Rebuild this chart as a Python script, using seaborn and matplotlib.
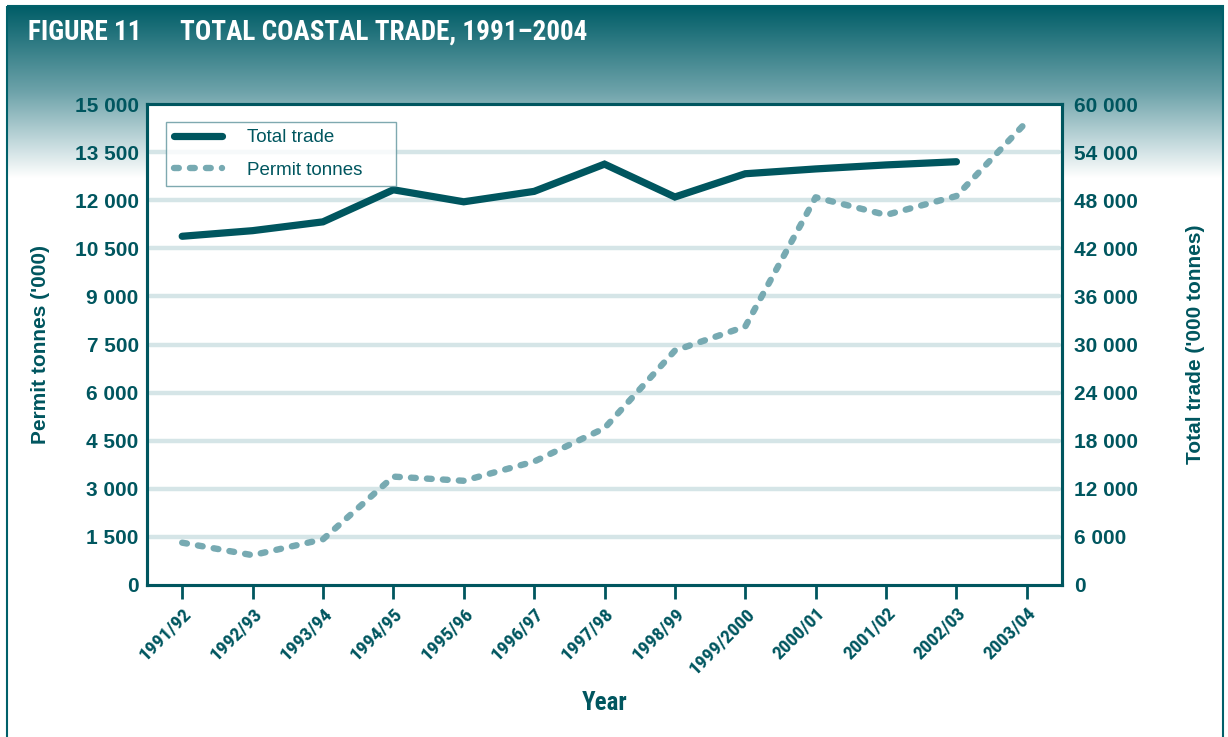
import numpy as np
import pandas as pd
import matplotlib
matplotlib.use("Agg")
import matplotlib.pyplot as plt
import seaborn as sns
from matplotlib.patches import Rectangle
from matplotlib import font_manager as fm

# ---- data ----
years = ["1991/92", "1992/93", "1993/94", "1994/95", "1995/96", "1996/97", "1997/98",
         "1998/99", "1999/2000", "2000/01", "2001/02", "2002/03", "2003/04"]
permit_tonnes = [1320, 930, 1425, 3380, 3250, 3850, 4890, 7310, 8060, 12090, 11540, 12130, 14450]
total_trade = [43500, 44200, 45300, 49300, 47800, 49100, 52500, 48400, 51300, 51900, 52400, 52800, None]
left_ticks = [0, 1500, 3000, 4500, 6000, 7500, 9000, 10500, 12000, 13500, 15000]
right_ticks = [0, 6000, 12000, 18000, 24000, 30000, 36000, 42000, 48000, 54000, 60000]

DARK = "#00565f"
LIGHT = "#77aab2"
GRID = "#d5e5e7"

sns.set_theme(style="white")
bold_names = {f.name for f in fm.fontManager.ttflist if f.weight in (700, "bold")}
narrow = "DejaVu Sans"
for cand in ["Roboto Condensed", "Fira Sans Condensed", "IBM Plex Sans Condensed", "Barlow Condensed"]:
    if cand in bold_names:
        narrow = cand
        break
plt.rcParams["font.family"] = ["Liberation Sans", "DejaVu Sans"]

W, H = 1228, 737
fig = plt.figure(figsize=(W / 100, H / 100), dpi=100)
fig.patch.set_facecolor("white")

# background gradient header and frame
bg = fig.add_axes([0, 0, 1, 1], zorder=-10)
bg.set_xlim(0, W)
bg.set_ylim(H, 0)
bg.axis("off")
n = 256
c0 = np.array(matplotlib.colors.to_rgb("#005d67"))
c1 = np.array(matplotlib.colors.to_rgb("#6ea3aa"))
c2 = np.array([1.0, 1.0, 1.0])
rgb = np.zeros((n, 1, 3))
for i in range(n):
    g = i / (n - 1)
    if g < 0.5:
        t = g / 0.5
        rgb[i, 0] = c0 * (1 - t) + c1 * t
    else:
        t = (g - 0.5) / 0.5
        rgb[i, 0] = c1 * (1 - t) + c2 * t
bg.imshow(rgb, extent=[7, 1223, 178, 6], aspect="auto", interpolation="bilinear")
bg.add_patch(Rectangle((7, 6), 1216, 760, fill=False, edgecolor="#00606a", linewidth=1.5))

fig.text(28 / W, 1 - 32 / H, "FIGURE 11", color="white", fontsize=19.5, fontweight="bold",
         family=narrow, va="center", ha="left")
fig.text(180 / W, 1 - 32 / H, "TOTAL COASTAL TRADE, 1991\u20132004", color="white", fontsize=19.5,
         fontweight="bold", family=narrow, va="center", ha="left")

# main axes
left, right, top, bottom = 147, 1062, 104, 585
ax = fig.add_axes([left / W, 1 - bottom / H, (right - left) / W, (bottom - top) / H])
ax.set_facecolor("white")
x = np.arange(len(years))

for v in left_ticks[1:-1]:
    ax.axhline(v, color=GRID, linewidth=3.2, zorder=0.5, xmin=0.003, xmax=0.997)

df_p = pd.DataFrame({"x": x, "v": permit_tonnes})
sns.lineplot(data=df_p, x="x", y="v", ax=ax, color=LIGHT, linewidth=4.6, zorder=3)
pl = ax.lines[-1]
pl.set_dashes((0.75, 1.75))
pl.set_dash_capstyle("round")
pl.set_solid_joinstyle("round")

ax.set_xlim(-0.5, 12.5)
ax.set_ylim(0, 15000)
ax.set_yticks(left_ticks)
ax.set_yticklabels([f"{v:,}".replace(",", " ") for v in left_ticks])
ax.set_xticks(x)
ax.set_xticklabels(years, rotation=45, ha="right", rotation_mode="anchor", family=narrow,
                   fontsize=14, fontweight="bold", color=DARK)
ax.tick_params(axis="x", length=10, width=2, color=DARK, pad=4, direction="out", bottom=True)
ax.tick_params(axis="y", length=0, pad=6, labelsize=15, labelcolor=DARK)
for lab in ax.get_yticklabels():
    lab.set_fontweight("bold")
ax.set_xlabel("Year", family=narrow, fontsize=18, fontweight="bold", color=DARK, labelpad=10)
ax.set_ylabel("Permit tonnes ('000)", fontsize=15, fontweight="bold", color=DARK, labelpad=18)
for s in ax.spines.values():
    s.set_color(DARK)
    s.set_linewidth(2.2)

ax2 = ax.twinx()
df_t = pd.DataFrame({"x": x, "v": total_trade}).dropna()
sns.lineplot(data=df_t, x="x", y="v", ax=ax2, color=DARK, linewidth=5.2, zorder=4)
tl = ax2.lines[-1]
tl.set_solid_capstyle("round")
tl.set_solid_joinstyle("miter")
ax2.set_ylim(0, 60000)
ax2.set_yticks(right_ticks)
ax2.set_yticklabels([f"{v:,}".replace(",", " ") for v in right_ticks])
ax2.tick_params(axis="y", length=0, pad=9, labelsize=15, labelcolor=DARK)
for lab in ax2.get_yticklabels():
    lab.set_fontweight("bold")
ax2.set_ylabel("Total trade ('000 tonnes)", fontsize=15, fontweight="bold", color=DARK,
               labelpad=34, rotation=90)
ax2.set_xlabel("")
for s in ax2.spines.values():
    s.set_color(DARK)
    s.set_linewidth(2.2)

leg_w = (396 - 166) / (right - left)
leg = ax2.legend([tl, pl], ["Total trade", "Permit tonnes"], loc="upper left",
                 bbox_to_anchor=(0.021, 0.5, leg_w, 0.963 - 0.5), mode="expand",
                 frameon=True, fancybox=False,
                 fontsize=13.5, handlelength=2.6, handletextpad=1.3, borderpad=0.4,
                 labelspacing=0.8, borderaxespad=0)
leg.get_frame().set_edgecolor("#5f949c")
leg.get_frame().set_linewidth(1.0)
for t in leg.get_texts():
    t.set_color(DARK)

fig.savefig("out.png", dpi=100, facecolor="white")
